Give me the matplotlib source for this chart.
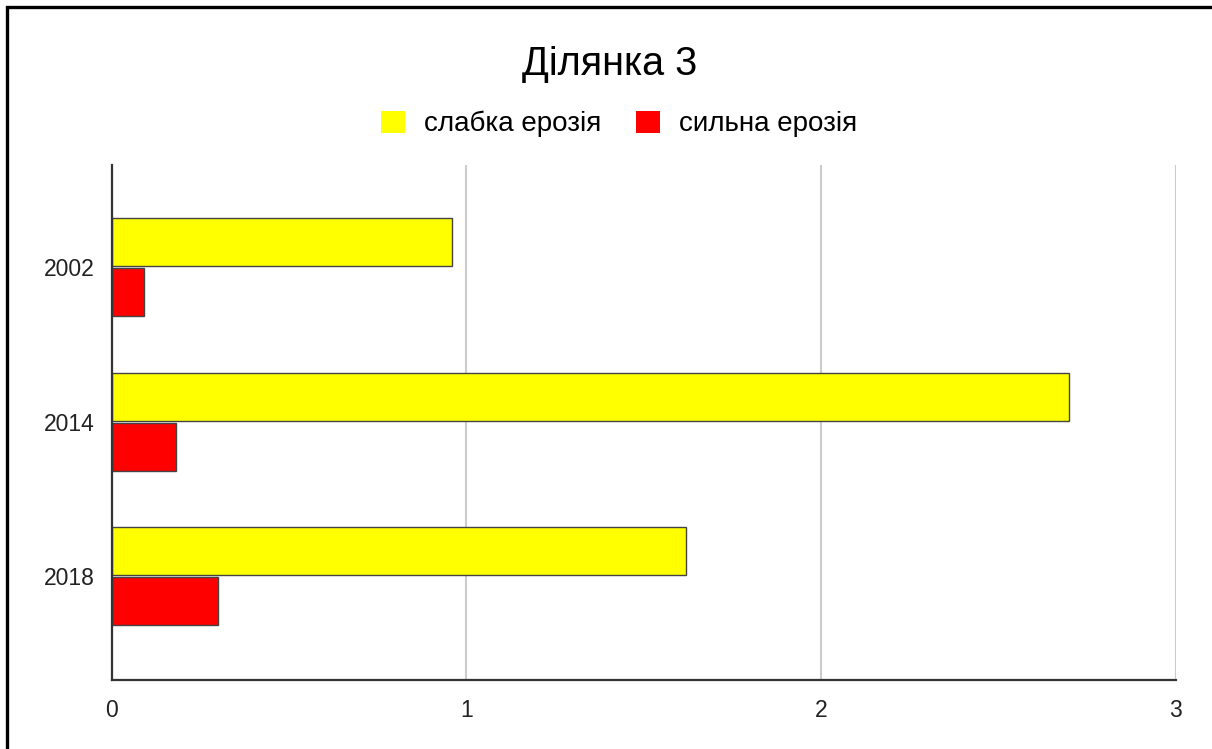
import matplotlib
matplotlib.use("Agg")
import matplotlib.pyplot as plt
from matplotlib.patches import Rectangle, Patch
import numpy as np

# Data
years = ["2002", "2014", "2018"]
weak_erosion = [0.96, 2.70, 1.62]
strong_erosion = [0.09, 0.18, 0.30]
series_names = ["слабка ерозія", "сильна ерозія"]
series_colors = ["#ffff00", "#ff0000"]
title = "Ділянка 3"

plt.rcParams['font.family'] = ['Liberation Sans', 'DejaVu Sans']

fig = plt.figure(figsize=(12.12, 7.49), dpi=100)
ax = fig.add_axes([0.0922, 0.0921, 0.878, 0.6876])

y = np.arange(len(years))
h = 0.31
off = 0.162
ax.barh(y - off, weak_erosion, height=h, color=series_colors[0],
        edgecolor='#444444', linewidth=1.0, zorder=3)
ax.barh(y + off, strong_erosion, height=h, color=series_colors[1],
        edgecolor='#444444', linewidth=1.0, zorder=3)

ax.set_xlim(0, 3)
ax.set_ylim(2.67, -0.66)
ax.set_xticks([0, 1, 2, 3])
ax.set_xticklabels(["0", "1", "2", "3"])
ax.set_yticks(y)
ax.set_yticklabels(years)
ax.tick_params(axis='both', length=0, labelsize=16.5, colors='#222222')
ax.tick_params(axis='y', pad=12)
ax.tick_params(axis='x', pad=14)

# Grid and spines
ax.grid(axis='x', color='#cccccc', linewidth=1.5, zorder=0)
ax.grid(axis='y', visible=False)
for s in ['top', 'right']:
    ax.spines[s].set_visible(False)
ax.spines['left'].set_color('#333333')
ax.spines['left'].set_linewidth(1.6)
ax.spines['bottom'].set_color('#333333')
ax.spines['bottom'].set_linewidth(1.6)
ax.spines['left'].set_zorder(4)

# Title and legend
fig.text(0.503, 1 - 64 / 749, title, ha='center', va='center', fontsize=28.5)
handles = [Patch(facecolor=c, edgecolor='none') for c in series_colors]
fig.legend(handles, series_names, loc='center', ncol=2,
           bbox_to_anchor=(619 / 1212, 1 - 124 / 749), frameon=False,
           fontsize=20, handlelength=0.85, handleheight=0.85,
           handletextpad=0.7, columnspacing=1.25)

# Outer frame (left and top edges visible)
fig.patches.append(Rectangle((7 / 1212, -0.1), 1.2, 1 - 7 / 749 + 0.1,
                             transform=fig.transFigure, fill=False,
                             edgecolor='black', linewidth=2.4))

fig.savefig("out.png", dpi=100)
